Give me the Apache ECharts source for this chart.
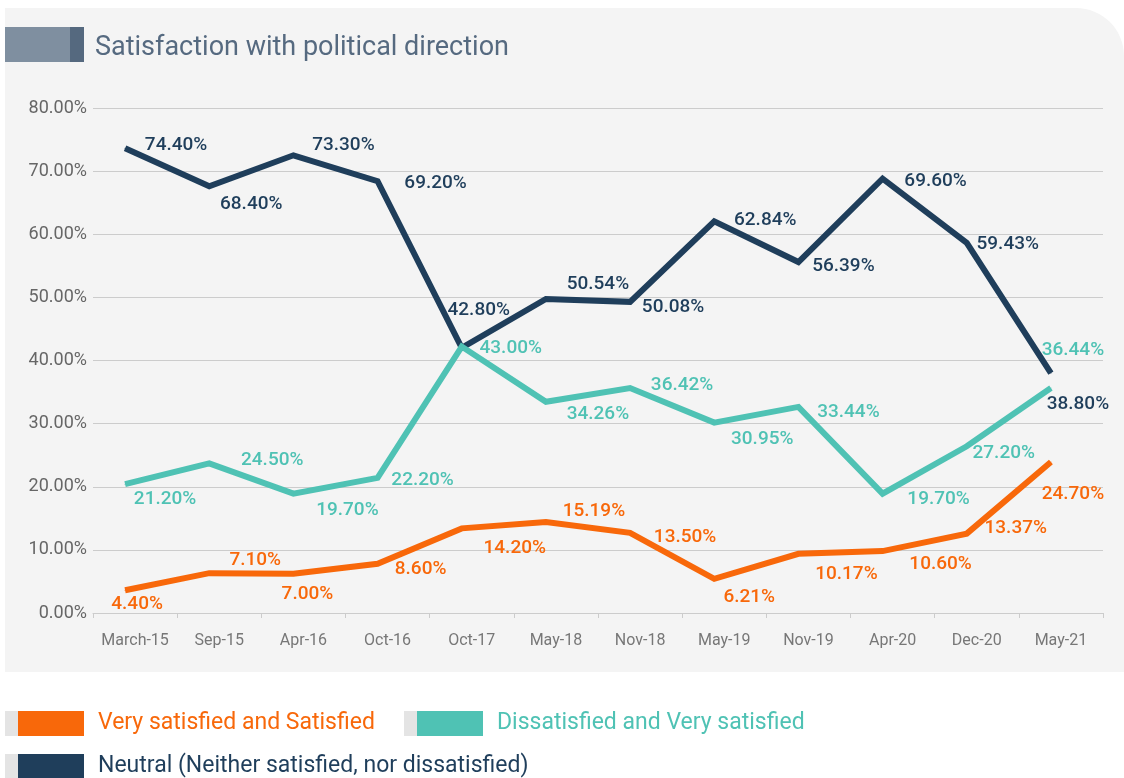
<!DOCTYPE html>
<html>
<head>
<meta charset="utf-8">
<script src="https://cdn.jsdelivr.net/npm/echarts@6/dist/echarts.min.js"></script>
<style>
html,body{margin:0;padding:0;background:#ffffff;}
#chart{width:1124px;height:778px;}
</style>
</head>
<body>
<div id="chart"></div>
<script>
// ---- data ----
const categories = ['March-15','Sep-15','Apr-16','Oct-16','Oct-17','May-18','Nov-18','May-19','Nov-19','Apr-20','Dec-20','May-21'];
const verySatisfied = [4.40, 7.10, 7.00, 8.60, 14.20, 15.19, 13.50, 6.21, 10.17, 10.60, 13.37, 24.70];
const dissatisfied  = [21.20, 24.50, 19.70, 22.20, 43.00, 34.26, 36.42, 30.95, 33.44, 19.70, 27.20, 36.44];
const neutral       = [74.40, 68.40, 73.30, 69.20, 42.80, 50.54, 50.08, 62.84, 56.39, 69.60, 59.43, 38.80];
const seriesNames = ['Very satisfied and Satisfied', 'Dissatisfied and Very satisfied', 'Neutral (Neither satisfied, nor dissatisfied)'];
const titleText = 'Satisfaction with political direction';

// ---- label placement (layout only) ----
const offOrange = [[12,14],[46,-13],[14,20],[43,6],[53,20],[48,-11],[55,4],[35,18],[48,20],[58,13],[49,-5],[22,32]];
const offTeal   = [[40,15],[63,-3],[54,17],[45,2],[49,2],[52,13],[52,-3],[48,17],[50,5],[56,6],[37,7],[22,-38]];
const offDark   = [[51,-3],[42,18],[50,-10],[58,2],[17,-38],[52,-15],[43,5],[51,-1],[45,4],[53,3],[41,1],[27,31]];

const C_ORANGE = '#f8680a', C_TEAL = '#4fc2b4', C_DARK = '#1f3e5b';
const FONT = 'Roboto';

function mkData(vals, offs){
  return vals.map((v,i)=>({value:v, label:{offset:offs[i]}}));
}
function mkSeries(name, vals, offs, color, z){
  return {
    name: name, type: 'line', xAxisIndex: 1, yAxisIndex: 1, z: z,
    data: mkData(vals, offs),
    symbol: 'circle', symbolSize: 1, showSymbol: true,
    itemStyle: {color: color},
    lineStyle: {color: color, width: 6, join: 'miter', cap: 'butt'},
    label: {show: true, position: 'inside', align: 'center', verticalAlign: 'middle',
      color: color, fontFamily: FONT, fontSize: 19, fontWeight: 500,
      formatter: p => p.value.toFixed(2) + '%'},
    emphasis: {disabled: true},
    animation: false
  };
}

const chart = echarts.init(document.getElementById('chart'), null, {renderer: 'canvas'});
const legendText = {fontFamily: FONT, fontSize: 23, padding: [0,0,0,9]};
const legendBase = {icon: 'rect', itemWidth: 66, itemHeight: 25, selectedMode: false, padding: 0};
const option = {
  animation: false,
  backgroundColor: '#ffffff',
  title: {text: titleText, left: 95, top: 35, padding: 0,
    textStyle: {fontFamily: FONT, fontSize: 27, fontWeight: 'normal', color: '#566a80'}},
  graphic: [
    {type: 'rect', z: -100, shape: {x: 5, y: 8, width: 1119, height: 664, r: [0, 48, 0, 0]}, style: {fill: '#f4f4f4'}},
    {type: 'rect', z: -50, shape: {x: 5, y: 27, width: 65, height: 35}, style: {fill: '#7f8fa0'}},
    {type: 'rect', z: -50, shape: {x: 70, y: 27, width: 14, height: 35}, style: {fill: '#55697f'}},
    {type: 'rect', shape: {x: 5, y: 711, width: 13, height: 25}, style: {fill: '#e4e4e4'}},
    {type: 'rect', shape: {x: 404, y: 711, width: 13, height: 25}, style: {fill: '#e4e4e4'}},
    {type: 'rect', shape: {x: 5, y: 754, width: 13, height: 25}, style: {fill: '#e4e4e4'}}
  ],
  legend: [
    Object.assign({left: 18, top: 711, data: [{name: seriesNames[0], textStyle: Object.assign({color: C_ORANGE}, legendText)}]}, legendBase),
    Object.assign({left: 417, top: 711, data: [{name: seriesNames[1], textStyle: Object.assign({color: C_TEAL}, legendText)}]}, legendBase),
    Object.assign({left: 18, top: 754, data: [{name: seriesNames[2], textStyle: Object.assign({color: C_DARK}, legendText)}]}, legendBase)
  ],
  grid: [
    {left: 93, right: 21, top: 108, height: 505},
    {left: 83, right: 31, top: 113, height: 505}
  ],
  xAxis: [
    {type: 'category', gridIndex: 0, data: categories, boundaryGap: true,
      axisLine: {show: true, lineStyle: {color: '#cccccc', width: 1}},
      axisTick: {show: true, length: 5, lineStyle: {color: '#cccccc'}},
      axisLabel: {color: '#777777', fontFamily: FONT, fontSize: 16, margin: 20, interval: 0},
      splitLine: {show: false}},
    {type: 'category', gridIndex: 1, data: categories, boundaryGap: true, show: false}
  ],
  yAxis: [
    {type: 'value', gridIndex: 0, min: 0, max: 80, interval: 10,
      axisLine: {show: false}, axisTick: {show: false},
      axisLabel: {color: '#666666', fontFamily: FONT, fontSize: 18, margin: 6,
        formatter: v => v.toFixed(2) + '%'},
      splitLine: {lineStyle: {color: '#cccccc', width: 1}}},
    {type: 'value', gridIndex: 1, min: 0, max: 80, interval: 10, show: false, splitLine: {show: false}}
  ],
  series: [
    mkSeries(seriesNames[0], verySatisfied, offOrange, C_ORANGE, 3),
    mkSeries(seriesNames[2], neutral, offDark, C_DARK, 4),
    mkSeries(seriesNames[1], dissatisfied, offTeal, C_TEAL, 5)
  ]
};
chart.setOption(option);
</script>
</body>
</html>
